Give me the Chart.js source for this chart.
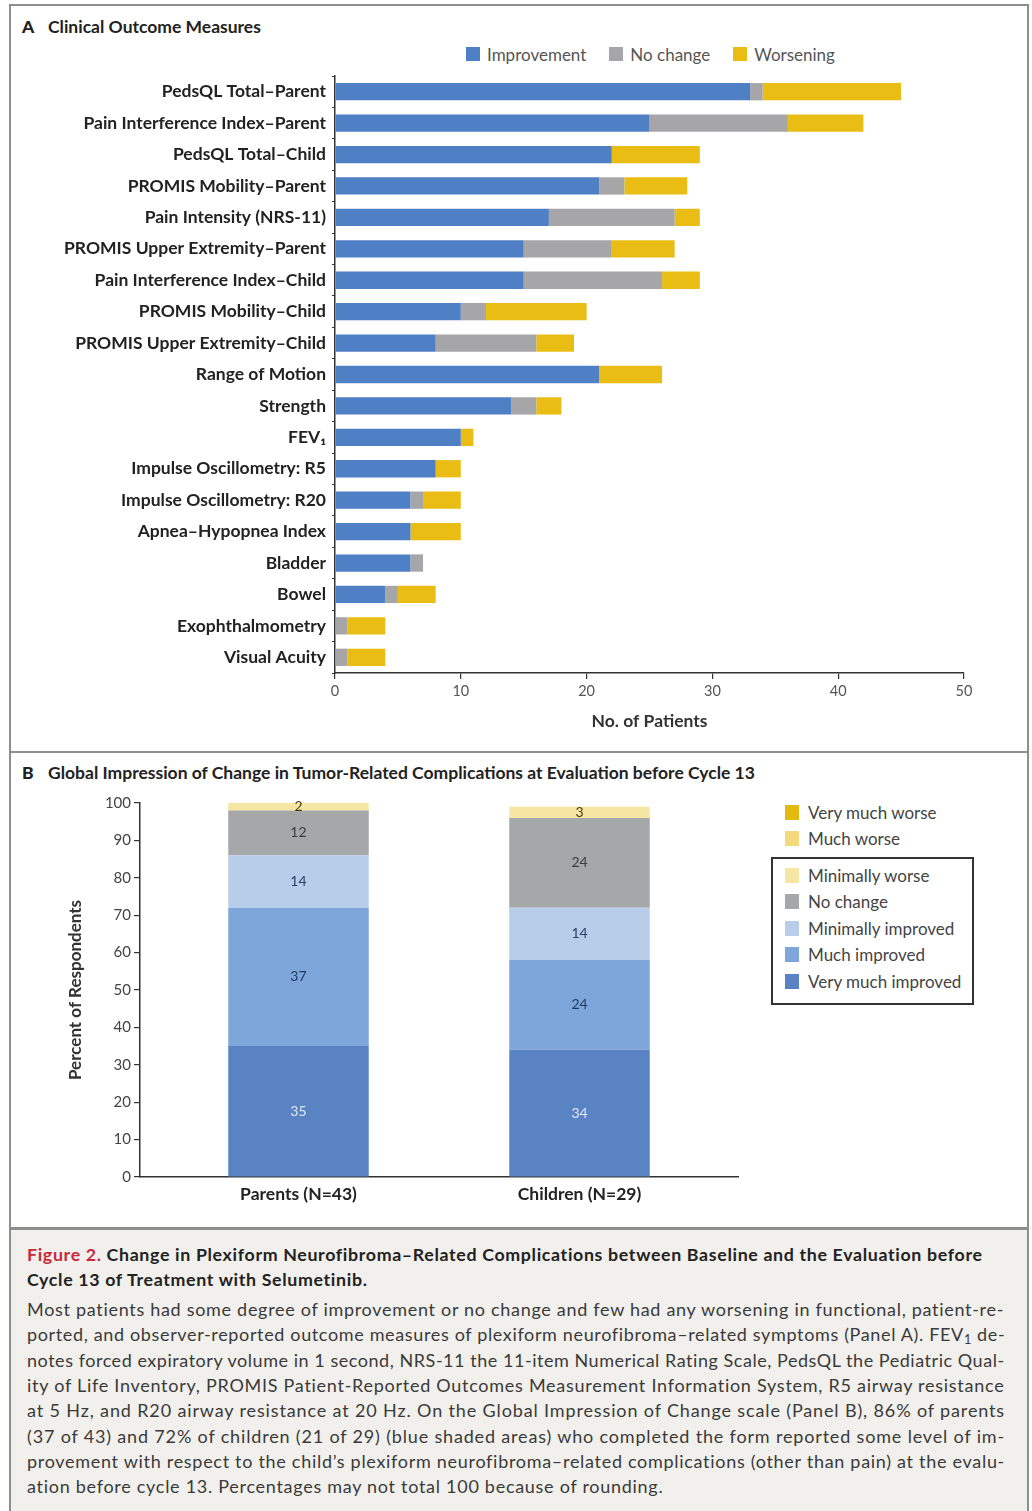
<!DOCTYPE html>
<html>
<head>
<meta charset="utf-8">
<title>Change in Plexiform Neurofibroma–Related Complications</title>
<script src="https://cdn.jsdelivr.net/npm/chart.js@4.4.1/dist/chart.umd.min.js"></script>
<style>
  html, body { margin: 0; padding: 0; background: #fff; }
  body { width: 1032px; height: 1511px; position: relative; overflow: hidden;
         font-family: Lato, "Open Sans", sans-serif; color: #222; }
  #frame { position: absolute; left: 9px; top: 4px; width: 1016px; height: 1520px;
           border: 2px solid #8e8e8e; }
  .sep { position: absolute; left: 11px; width: 1016px; height: 2px; background: #8e8e8e; }
  .ptitle { position: absolute; left: 22px; font-weight: 700; font-size: 17.5px; line-height: 20px;
            color: #222; white-space: nowrap; }
  .ptitle b { display: inline-block; width: 26px; }
  canvas { position: absolute; }
  #legendA { position: absolute; left: 466px; top: 45px; height: 18px; display: flex;
             align-items: center; font-size: 17px; color: #555; white-space: nowrap; }
  #legendA .li { display: flex; align-items: center; margin-right: 23px; }
  #legendA i { display: inline-block; width: 14px; height: 14px; margin-right: 7px; }
  .lgB { position: absolute; font-size: 17px; color: #444; white-space: nowrap; }
  .lgB .li { display: flex; align-items: center; height: 26.5px; }
  .lgB i { display: inline-block; width: 14px; height: 15px; margin-right: 9px; }
  #legendBOuter { left: 785px; top: 799px; }
  #legendBBox { left: 771px; top: 857px; width: 187px; height: 141px; border: 2px solid #333;
                padding: 3px 0 0 12px; }
  #caption { position: absolute; left: 11px; top: 1227px; width: 1016px; height: 300px;
             background: #f2f0ec; border-top: 3px solid #8e8e8e; }
  .cl { position: absolute; left: 16px; white-space: nowrap; }
  .cl span { white-space: nowrap; }
  .ct { font-weight: 700; font-size: 17.8px; color: #222; line-height: 25px; }
  .ct .fig { color: #c8283a; }
  .cb { font-size: 18px; color: #3a3a3a; line-height: 25px; }
  sub { font-size: 0.7em; vertical-align: -0.25em; line-height: 0; }
</style>
</head>
<body>
<div id="frame"></div>
<div class="sep" style="top:751px"></div>

<div class="ptitle" style="top:17px"><b>A</b>Clinical Outcome Measures</div>
<div id="legendA"></div>
<canvas id="chartA" width="1010" height="705" style="left:10px;top:40px"></canvas>

<div class="ptitle" style="top:763px"><b>B</b>Global Impression of Change in Tumor-Related Complications at Evaluation before Cycle 13</div>
<canvas id="chartB" width="760" height="430" style="left:10px;top:785px"></canvas>
<div id="legendBOuter" class="lgB"></div>
<div id="legendBBox" class="lgB"></div>

<div id="caption">
  <div class="cl ct" style="top:12px" data-fit="956"><span><span class="fig">Figure 2.</span> Change in Plexiform Neurofibroma–Related Complications between Baseline and the Evaluation before</span></div>
  <div class="cl ct" style="top:37px" data-avg="ct"><span>Cycle 13 of Treatment with Selumetinib.</span></div>
  <div class="cl cb" style="top:67px" data-fit="978"><span>Most patients had some degree of improvement or no change and few had any worsening in functional, patient-re-</span></div>
  <div class="cl cb" style="top:92.3px" data-fit="978"><span>ported, and observer-reported outcome measures of plexiform neurofibroma–related symptoms (Panel A). FEV<sub>1</sub> de-</span></div>
  <div class="cl cb" style="top:117.6px" data-fit="978"><span>notes forced expiratory volume in 1 second, NRS-11 the 11-item Numerical Rating Scale, PedsQL the Pediatric Qual-</span></div>
  <div class="cl cb" style="top:142.9px" data-fit="978"><span>ity of Life Inventory, PROMIS Patient-Reported Outcomes Measurement Information System, R5 airway resistance</span></div>
  <div class="cl cb" style="top:168.2px" data-fit="978"><span>at 5 Hz, and R20 airway resistance at 20 Hz. On the Global Impression of Change scale (Panel B), 86% of parents</span></div>
  <div class="cl cb" style="top:193.5px" data-fit="978"><span>(37 of 43) and 72% of children (21 of 29) (blue shaded areas) who completed the form reported some level of im-</span></div>
  <div class="cl cb" style="top:218.8px" data-fit="978"><span>provement with respect to the child’s plexiform neurofibroma–related complications (other than pain) at the evalu-</span></div>
  <div class="cl cb" style="top:244.1px" data-avg="cb"><span>ation before cycle 13. Percentages may not total 100 because of rounding.</span></div>
</div>

<script>
// ---------- Panel A: clinical outcome measures (number of patients) ----------
const outcomeLabels = [
  'PedsQL Total–Parent', 'Pain Interference Index–Parent', 'PedsQL Total–Child',
  'PROMIS Mobility–Parent', 'Pain Intensity (NRS-11)', 'PROMIS Upper Extremity–Parent',
  'Pain Interference Index–Child', 'PROMIS Mobility–Child', 'PROMIS Upper Extremity–Child',
  'Range of Motion', 'Strength', 'FEV₁', 'Impulse Oscillometry: R5',
  'Impulse Oscillometry: R20', 'Apnea–Hypopnea Index', 'Bladder', 'Bowel',
  'Exophthalmometry', 'Visual Acuity'
];
const improvement = [33, 25, 22, 21, 17, 15, 15, 10, 8, 21, 14, 10, 8, 6, 6, 6, 4, 0, 0];
const noChange    = [ 1, 11,  0,  2, 10,  7, 11,  2, 8,  0,  2,  0, 0, 1, 0, 1, 1, 1, 1];
const worsening   = [11,  6,  7,  5,  2,  5,  3,  8, 3,  5,  2,  1, 2, 3, 4, 0, 3, 3, 3];
const outcomeSeries = ['Improvement', 'No change', 'Worsening'];
const outcomeColors = ['#4f7fc4', '#a6a6a8', '#e9bd14'];
const patientTicks = [0, 10, 20, 30, 40, 50];

// ---------- Panel B: global impression of change (percent of respondents) ----------
const groups = ['Parents (N=43)', 'Children (N=29)'];
const veryMuchImproved  = [35, 34];
const muchImproved      = [37, 24];
const minimallyImproved = [14, 14];
const noChangeGic       = [12, 24];
const minimallyWorse    = [2, 3];
const muchWorse         = [0, 0];
const veryMuchWorse     = [0, 0];
const responseLevels = ['Very much improved', 'Much improved', 'Minimally improved',
                        'No change', 'Minimally worse', 'Much worse', 'Very much worse'];
const responseColors = ['#5a83c3', '#7fa6da', '#b8cdea', '#a6a7a9', '#f6e6a3', '#f3d97c', '#e2b90c'];
const responseTextColors = ['#dfe9f8', '#1f3a66', '#2b4268', '#3b3b3b', '#4a3d05', '#4a3d05', '#4a3d05'];
const percentTicks = [0, 10, 20, 30, 40, 50, 60, 70, 80, 90, 100];

const FONT = "Lato, 'Open Sans', sans-serif";
Chart.defaults.font.family = FONT;
Chart.defaults.color = '#444';

// HTML legends built from the series names and colours
document.getElementById('legendA').innerHTML = outcomeSeries
  .map((s, i) => `<span class="li"><i style="background:${outcomeColors[i]}"></i>${s}</span>`).join('');
const legendItem = i => `<div class="li"><i style="background:${responseColors[i]}"></i>${responseLevels[i]}</div>`;
document.getElementById('legendBOuter').innerHTML = [6, 5].map(legendItem).join('');
document.getElementById('legendBBox').innerHTML = [4, 3, 2, 1, 0].map(legendItem).join('');

// Writes each stacked segment's value in the middle of the segment
const segmentLabels = {
  id: 'segmentLabels',
  afterDatasetsDraw(chart) {
    const { ctx } = chart;
    ctx.save();
    ctx.font = `14px ${FONT}`;
    ctx.textAlign = 'center';
    ctx.textBaseline = 'middle';
    chart.data.datasets.forEach((ds, di) => {
      chart.getDatasetMeta(di).data.forEach((bar, i) => {
        const v = ds.data[i].y;
        if (!v) return;
        const { x, y, base } = bar.getProps(['x', 'y', 'base'], true);
        ctx.fillStyle = ds.labelColor;
        ctx.fillText(String(v), x, (y + base) / 2);
      });
    });
    ctx.restore();
  }
};

function drawCharts() {
  const seriesA = [improvement, noChange, worsening];
  new Chart(document.getElementById('chartA'), {
    type: 'bar',
    data: {
      labels: outcomeLabels,
      datasets: seriesA.map((d, i) => ({
        label: outcomeSeries[i], data: d, backgroundColor: outcomeColors[i],
        borderWidth: 0, categoryPercentage: 1, barPercentage: 0.55
      }))
    },
    options: {
      indexAxis: 'y',
      responsive: false,
      animation: false,
      layout: { padding: { top: 36, right: 56, left: 0, bottom: 0 } },
      plugins: { legend: { display: false }, tooltip: { enabled: false } },
      scales: {
        x: {
          stacked: true, min: 0, max: 50,
          afterBuildTicks: s => { s.ticks = patientTicks.map(v => ({ value: v })); },
          afterFit: s => { s.height = 72; },
          grid: { drawOnChartArea: false, tickLength: 6, color: '#333', lineWidth: 1.2 },
          border: { color: '#333', width: 1.5 },
          ticks: { color: '#555', font: { size: 14.5 }, padding: 4, autoSkip: false, maxRotation: 0 },
          title: { display: true, text: 'No. of Patients', color: '#333',
                   font: { size: 17.5, weight: 'bold' }, padding: { top: 0, bottom: 13 } }
        },
        y: {
          stacked: true,
          afterFit: s => { s.width = 325; },
          grid: { drawOnChartArea: false, tickLength: 3, color: '#333', offset: true },
          border: { color: '#333', width: 1.5 },
          ticks: { color: '#222', font: { size: 17.5, weight: 'bold' }, padding: 6, autoSkip: false }
        }
      }
    }
  });

  const seriesB = [veryMuchImproved, muchImproved, minimallyImproved, noChangeGic,
                   minimallyWorse, muchWorse, veryMuchWorse];
  new Chart(document.getElementById('chartB'), {
    type: 'bar',
    data: {
      datasets: seriesB.map((d, i) => ({
        label: responseLevels[i],
        data: d.map((v, g) => ({ x: g, y: v })),
        backgroundColor: responseColors[i], labelColor: responseTextColors[i],
        borderWidth: 0, categoryPercentage: 1, barPercentage: 0.5
      }))
    },
    plugins: [segmentLabels],
    options: {
      responsive: false,
      animation: false,
      layout: { padding: { top: 18, right: 32, left: 0, bottom: 0 } },
      plugins: { legend: { display: false }, tooltip: { enabled: false } },
      scales: {
        x: {
          type: 'linear', offset: false, stacked: true, min: -0.564, max: 1.564,
          afterBuildTicks: s => { s.ticks = groups.map((_, i) => ({ value: i })); },
          afterFit: s => { s.height = 38; },
          grid: { display: false, drawTicks: false },
          border: { color: '#333', width: 1.5 },
          ticks: { color: '#222', font: { size: 17.5, weight: 'bold' }, padding: 7,
                   autoSkip: false, maxRotation: 0, callback: v => groups[v] }
        },
        y: {
          stacked: true, min: 0, max: 100,
          afterBuildTicks: s => { s.ticks = percentTicks.map(v => ({ value: v })); },
          afterFit: s => { s.width = 130; },
          grid: { drawOnChartArea: false, tickLength: 6, color: '#333', lineWidth: 1.2 },
          border: { color: '#333', width: 1.5 },
          ticks: { color: '#444', font: { size: 15 }, padding: 3, autoSkip: false },
          title: { display: true, text: 'Percent of Respondents', color: '#333',
                   font: { size: 17, weight: 'bold' }, padding: { top: 55, bottom: 0 } }
        }
      }
    }
  });
}

// Justify the caption lines to their column width by spreading the letters
function fitCaption() {
  const sums = {};
  document.querySelectorAll('[data-fit]').forEach(el => {
    const target = parseFloat(el.dataset.fit);
    const span = el.firstElementChild;
    el.style.letterSpacing = '0px';
    const w = span.getBoundingClientRect().width;
    const n = span.textContent.length;
    const ls = (target - w) / n;
    el.style.letterSpacing = ls + 'px';
    const key = el.classList.contains('ct') ? 'ct' : 'cb';
    sums[key] = sums[key] || [];
    sums[key].push(ls);
  });
  document.querySelectorAll('[data-avg]').forEach(el => {
    const list = sums[el.dataset.avg] || [0];
    const avg = list.reduce((a, b) => a + b, 0) / list.length;
    el.style.letterSpacing = avg + 'px';
  });
}

Promise.all([
  document.fonts.load(`16px ${FONT}`),
  document.fonts.load(`bold 16px ${FONT}`)
]).catch(() => {}).then(() => { fitCaption(); drawCharts(); });
</script>
</body>
</html>
